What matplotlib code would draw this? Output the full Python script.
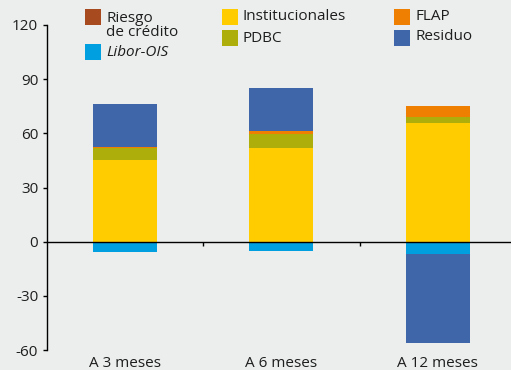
import matplotlib.pyplot as plt
from matplotlib.patches import Rectangle
import numpy as np

plt.rcParams['font.family'] = ['Open Sans', 'DejaVu Sans']
plt.rcParams['axes.unicode_minus'] = False

categories = ["A 3 meses", "A 6 meses", "A 12 meses"]
institucionales = [45.2, 51.8, 65.7]
pdbc = [6.8, 7.8, 3.5]
flap = [0.6, 1.8, 6.0]
riesgo = [0.0, 0.0, 0.0]
residuo = [23.7, 23.8, -49.0]
libor = [-5.9, -5.4, -6.9]

series = [
    ("Institucionales", institucionales, "#ffcc00"),
    ("PDBC", pdbc, "#adae0b"),
    ("FLAP", flap, "#ee7f00"),
    ("Riesgo\nde crédito", riesgo, "#a84a20"),
    ("Residuo", residuo, "#3e66a9"),
    ("Libor-OIS", libor, "#009fe0"),
]

BG = "#eceeed"
TXT = "#1e1e1e"
W, H = 511, 370

fig = plt.figure(figsize=(W / 100, H / 100), dpi=100, facecolor=BG)
ax = fig.add_axes([46.5 / W, 20 / H, 469.5 / W, 325 / H], facecolor=BG)

x = np.arange(len(categories))
pos_base = np.zeros(len(categories))
neg_base = np.zeros(len(categories))
order = ["Libor-OIS", "Institucionales", "PDBC", "FLAP", "Riesgo\nde crédito", "Residuo"]
lookup = {name: (vals, col) for name, vals, col in series}
for name in order:
    vals, col = lookup[name]
    vals = np.array(vals)
    base = np.where(vals >= 0, pos_base, neg_base)
    ax.bar(x, vals, width=0.41, bottom=base, color=col, linewidth=0)
    pos_base = pos_base + np.where(vals >= 0, vals, 0)
    neg_base = neg_base + np.where(vals < 0, vals, 0)

ax.set_xlim(-0.5, 2.5)
ax.set_ylim(-60, 120)
ax.set_yticks([-60, -30, 0, 30, 60, 90, 120])
ax.tick_params(axis='y', direction='out', length=3, width=1, colors='black',
               labelcolor=TXT, labelsize=11, pad=3)
ax.spines['top'].set_visible(False)
ax.spines['right'].set_visible(False)
ax.spines['bottom'].set_position(('data', 0))
ax.spines['left'].set_linewidth(1)
ax.spines['bottom'].set_linewidth(1)
ax.set_xticks([0.5, 1.5])
ax.set_xticklabels([])
ax.tick_params(axis='x', direction='out', length=3, width=1)

for xi, label in zip(x, categories):
    ax.text(xi, -0.018, label, transform=ax.get_xaxis_transform(),
            ha='center', va='top', fontsize=11, color=TXT)


def px(xp, yp):
    return xp / W, 1 - yp / H


legend_items = [
    ("Riesgo\nde crédito", 85, 9, 25.5, 'normal'),
    ("Libor-OIS", 85, 44, 52, 'italic'),
    ("Institucionales", 222, 9, 17, 'normal'),
    ("PDBC", 222, 30, 38, 'normal'),
    ("FLAP", 394, 9, 16, 'normal'),
    ("Residuo", 394, 30, 37, 'normal'),
]
for name, lx, ly, ty, style in legend_items:
    col = lookup[name][1]
    fx, fy = px(lx, ly + 16)
    fig.add_artist(Rectangle((fx, fy), 16 / W, 16 / H, transform=fig.transFigure,
                             facecolor=col, edgecolor='none'))
    tx, tyf = px(lx + 21, ty)
    fig.text(tx, tyf, name, ha='left', va='center', fontsize=11, color=TXT,
             style=style, linespacing=0.95)

fig.savefig("out.png", dpi=100, facecolor=BG)
